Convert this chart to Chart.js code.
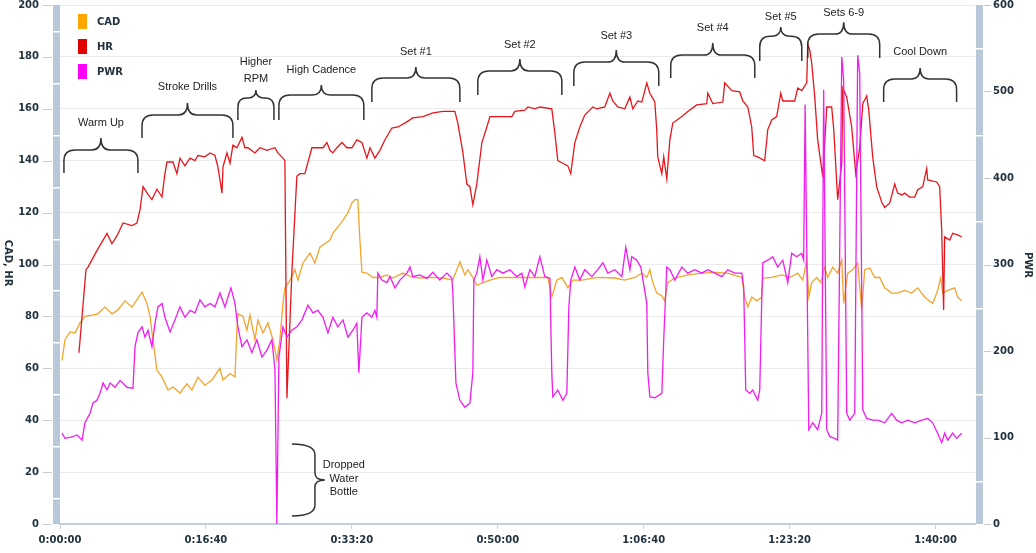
<!DOCTYPE html>
<html>
<head>
<meta charset="utf-8">
<script src="https://cdn.jsdelivr.net/npm/chart.js@4.4.1/dist/chart.umd.min.js"></script>
<style>
  html, body { margin: 0; padding: 0; background: #fff; }
  canvas { display: block; }
</style>
</head>
<body>
<canvas id="chart" width="1036" height="553"></canvas>
<script>
// [seconds, value]
const cadPoints = [
  [14,63],[34,71],[69,74],[103,73.6],[137,77.5],[171,80],[219,80.5],[260,81],[308,83.6],[356,81],
  [397,82.5],[445,86],[493,83.6],[534,87],[562,89.4],[596,85],[617,80],[637,71],[664,59.3],[699,56.6],
  [740,51.6],[774,52.8],[822,50.5],[870,54],[904,51.6],[945,56.6],[993,53.5],[1041,55.5],[1096,60],[1117,55.5],
  [1165,58],[1199,56.6],[1212,74.7],[1219,81],[1254,80],[1281,74.7],[1302,80.5],[1336,71],[1356,78.6],[1391,73.6],
  [1425,77.5],[1459,71],[1486,63.2],[1507,71],[1528,85],[1541,91],[1576,94],[1610,98],[1630,94],[1665,100.6],
  [1713,104.4],[1747,100.6],[1781,106.7],[1815,108],[1850,109.4],[1870,112],[1904,114.5],[1939,117],[1973,120],[2000,123.7],
  [2021,125],[2041,125],[2055,109.4],[2069,97],[2103,96.7],[2144,95],[2192,95],[2240,96],[2281,94.8],[2350,96.7],
  [2418,95],[2487,94.8],[2555,95],[2624,94.8],[2692,94],[2719,98],[2740,101],[2774,96],[2795,98],[2829,95],
  [2856,92],[2898,93],[2946,94],[3014,95],[3117,95],[3233,95],[3343,95],[3370,87.5],[3405,94],[3439,95],
  [3480,91],[3514,94],[3576,94],[3685,95],[3802,94.8],[3870,94],[3939,95],[3987,96.7],[4021,95],[4042,98],
  [4062,93],[4089,89],[4124,88],[4144,86],[4165,93],[4213,94.8],[4302,96],[4398,96.7],[4487,97],[4576,96.7],
  [4672,95],[4692,87.5],[4713,83.6],[4740,87.5],[4775,86],[4809,87.5],[4816,94.8],[4877,95],[4946,96],[5001,95],
  [5055,96.7],[5090,94],[5117,101.7],[5131,87.5],[5151,93],[5185,95],[5213,93],[5240,99],[5261,95],[5295,99],
  [5329,96.7],[5357,101.7],[5370,85],[5398,96.7],[5432,98],[5466,100.6],[5494,82.5],[5514,98],[5549,98.6],[5583,95],
  [5617,95],[5651,91],[5699,89],[5740,89],[5788,90],[5836,89],[5877,91],[5925,87.5],[5980,85],[6014,90],
  [6035,94.8],[6049,89],[6083,90],[6131,91],[6151,87.5],[6179,86]
];

const hrPoints = [
  [130,66],[178,98],[192,99],[240,104],[260,106],[322,112],[356,108],[390,111],[432,116],[493,115],
  [527,116],[548,121],[569,130],[603,127],[630,125],[664,129],[699,126],[719,135],[733,139.5],[774,139.5],
  [801,135],[822,141],[856,138],[891,141],[925,140],[945,142],[993,141.5],[1028,143],[1062,142],[1082,137.6],
  [1110,127.5],[1117,137.6],[1144,143],[1165,139],[1185,146],[1212,145],[1247,149],[1267,145],[1288,145],[1336,143],
  [1370,145],[1418,144],[1473,145],[1493,143],[1528,141],[1541,140],[1555,48.5],[1589,97],[1623,134],[1644,135],
  [1678,135],[1726,145],[1760,145],[1802,145],[1829,147],[1850,144],[1870,143],[1897,145],[1932,147],[1966,145],
  [2000,145],[2034,148],[2069,147],[2103,141],[2124,145],[2158,141],[2192,144],[2226,148],[2274,152.6],[2315,153],
  [2363,154.5],[2418,156.5],[2487,157],[2555,158.4],[2624,159],[2706,159],[2726,154.5],[2761,143],[2788,131],[2809,130],
  [2829,123],[2856,131],[2891,147],[2925,153],[2946,157],[3014,157],[3096,157],[3117,159],[3185,159.5],[3206,160.7],
  [3254,160],[3288,160.7],[3370,160],[3391,150.7],[3411,140],[3446,139],[3480,138],[3500,135],[3528,147],[3562,153],
  [3596,157.6],[3651,160.7],[3678,160],[3733,160.7],[3768,166],[3788,163],[3822,160.7],[3870,160],[3905,164.5],[3925,160],
  [3959,163],[3987,162.6],[4021,170],[4042,166],[4062,164],[4076,162.6],[4089,152],[4096,141.5],[4124,135],[4137,141.5],
  [4158,133],[4179,148],[4199,154.5],[4261,157],[4302,159],[4363,161.5],[4432,162],[4439,166],[4473,162],[4542,162.6],
  [4555,170],[4603,167],[4658,166.5],[4679,163],[4713,160.7],[4740,153],[4754,142],[4781,141.5],[4829,140],[4850,152],
  [4877,155.7],[4911,157],[4939,166],[4953,163],[5035,163],[5055,168],[5083,167],[5117,170],[5124,185],[5138,182.6],
  [5151,177.6],[5172,164.5],[5192,148],[5227,133.7],[5254,160.7],[5288,160.7],[5302,152],[5329,125],[5357,139],[5364,168],
  [5391,164.5],[5425,153],[5453,135],[5480,145],[5501,162],[5528,165],[5542,159.5],[5569,141.5],[5596,130],[5631,124],
  [5651,122],[5686,123.7],[5720,131],[5740,127.5],[5768,126.8],[5788,127.5],[5823,126],[5857,126],[5877,128.7],[5912,130],
  [5939,137],[5946,132.6],[6007,131.8],[6028,130],[6042,113],[6055,82.5],[6062,110.6],[6097,109.4],[6117,112],[6151,111.4],
  [6179,110.6]
];

const pwrPoints = [
  [14,105],[34,99],[82,100.6],[116,103],[151,97],[171,117],[206,128],[226,140],[253,143],[274,151],
  [295,163],[322,155],[343,163],[377,158],[411,166],[459,158],[500,157],[514,205],[534,221],[562,228],
  [582,216],[603,224],[630,205],[651,232],[671,251],[699,255],[719,239],[754,222],[788,236],[822,251],
  [856,239],[891,247],[925,244],[959,259],[993,251],[1028,255],[1062,251],[1096,267],[1130,251],[1171,273],
  [1199,255],[1219,228],[1247,205],[1281,213],[1315,198],[1349,213],[1384,193],[1418,201],[1452,213],[1473,178],
  [1486,0],[1500,193],[1528,228],[1555,216],[1589,224],[1623,228],[1658,236],[1699,253],[1733,244],[1767,247],
  [1802,239],[1836,221],[1870,239],[1904,228],[1939,236],[1973,216],[2007,224],[2034,232],[2048,175],[2069,239],
  [2103,244],[2137,239],[2158,247],[2171,239],[2178,290],[2206,282],[2240,279],[2261,286],[2295,273],[2329,282],
  [2377,290],[2398,297],[2418,286],[2466,288],[2514,284],[2555,291],[2603,282],[2651,290],[2685,284],[2692,267],
  [2713,163],[2740,143],[2774,135],[2809,140],[2829,175],[2836,282],[2856,290],[2877,309],[2898,282],[2925,305],
  [2959,286],[2993,294],[3035,290],[3083,294],[3130,286],[3165,290],[3185,274],[3220,294],[3254,286],[3288,309],
  [3322,286],[3357,284],[3370,175],[3377,147],[3411,155],[3446,143],[3473,151],[3487,251],[3500,282],[3528,297],
  [3562,282],[3596,294],[3644,286],[3685,294],[3720,302],[3754,290],[3802,294],[3850,286],[3877,320],[3905,294],
  [3918,309],[3952,305],[3980,297],[4021,255],[4028,175],[4042,147],[4076,146],[4124,151],[4137,213],[4158,297],
  [4179,294],[4213,282],[4261,297],[4302,290],[4350,294],[4398,290],[4439,294],[4487,290],[4535,286],[4576,294],
  [4624,290],[4672,290],[4685,274],[4699,155],[4727,151],[4747,155],[4781,143],[4795,155],[4809,262],[4816,302],
  [4850,305],[4884,309],[4918,297],[4953,305],[4987,279],[5014,313],[5048,309],[5083,313],[5096,305],[5106,485],
  [5131,109],[5158,117],[5192,109],[5220,128],[5233,502],[5254,109],[5275,101],[5309,99],[5329,97],[5357,540],
  [5370,513],[5391,128],[5412,120],[5446,128],[5466,542],[5480,521],[5501,132],[5528,122],[5569,120],[5603,120],
  [5651,117],[5699,128],[5733,120],[5768,117],[5809,120],[5857,117],[5905,120],[5946,122],[5980,117],[6014,105],
  [6042,94],[6062,105],[6083,97],[6117,105],[6144,99],[6179,105]
];

const timeTicks = [0, 1000, 2000, 3000, 4000, 5000, 6000];

// braces: time range, arm end / bar / peak heights and label rows, in CAD/HR units
const braces = [
  { text: ['Warm Up'], t0: 27, t1: 534, arm: 135.3, bar: 144.1, peak: 148.7, textY: [154.5] },
  { text: ['Stroke Drills'], t0: 562, t1: 1185, arm: 148.7, bar: 157.6, peak: 162.2, textY: [168.4] },
  { text: ['Higher', 'RPM'], t0: 1219, t1: 1466, arm: 155.7, bar: 164.2, peak: 167.2, textY: [178, 171.5] },
  { text: ['High Cadence'], t0: 1500, t1: 2082, arm: 155.7, bar: 165.3, peak: 169.2, textY: [175] },
  { text: ['Set #1'], t0: 2137, t1: 2740, arm: 162.6, bar: 171.9, peak: 176.1, textY: [181.9] },
  { text: ['Set #2'], t0: 2863, t1: 3439, arm: 165.3, bar: 174.6, peak: 179.2, textY: [184.6] },
  { text: ['Set #3'], t0: 3521, t1: 4103, arm: 168.8, bar: 178, peak: 182.7, textY: [188.2] },
  { text: ['Set #4'], t0: 4185, t1: 4761, arm: 171.9, bar: 180.7, peak: 185.4, textY: [191.1] },
  { text: ['Set #5'], t0: 4795, t1: 5083, arm: 178.4, bar: 188, peak: 191.5, textY: [195.4] },
  { text: ['Sets 6-9'], t0: 5124, t1: 5617, arm: 179.6, bar: 188.8, peak: 193.4, textY: [196.9] },
  { text: ['Cool Down'], t0: 5644, t1: 6144, arm: 162.6, bar: 171.5, peak: 175.7, textY: [181.9] }
];
const bottleNote = { text: ['Dropped', 'Water', 'Bottle'], tArm: 1589, tLine: 1747, tTip: 1815, top: 30.8, mid: 17, bottom: 3.1, tText: 1945, textY: [22.7, 17.3, 12.3] };

const legendItems = [
  { label: 'CAD', color: '#ffa500' },
  { label: 'HR', color: '#e00000' },
  { label: 'PWR', color: '#ff00ff' }
];

const tickFont = { family: 'DejaVu Sans', size: 10, weight: 'bold', lineHeight: 1 };
const tickColor = '#22323f';

function fmtTime(s) {
  const h = Math.floor(s / 3600);
  const m = Math.floor((s % 3600) / 60);
  const sec = Math.round(s % 60);
  return h + ':' + String(m).padStart(2, '0') + ':' + String(sec).padStart(2, '0');
}

function toXY(points) {
  return points.map(p => ({ x: p[0], y: p[1] }));
}

function drawBrace(ctx, b, xs, ys) {
  const x0 = xs.getPixelForValue(b.t0);
  const x1 = xs.getPixelForValue(b.t1);
  const xm = (x0 + x1) / 2;
  const yArm = ys.getPixelForValue(b.arm);
  const yBar = ys.getPixelForValue(b.bar);
  const yPeak = ys.getPixelForValue(b.peak);
  const r = Math.min(11, (x1 - x0) / 4);
  const r2 = Math.min(9, (x1 - x0) / 5);

  ctx.beginPath();
  ctx.moveTo(x0, yArm);
  ctx.lineTo(x0, yBar + r);
  ctx.quadraticCurveTo(x0, yBar, x0 + r, yBar);
  ctx.lineTo(xm - r2, yBar);
  ctx.quadraticCurveTo(xm, yBar, xm, yPeak);
  ctx.quadraticCurveTo(xm, yBar, xm + r2, yBar);
  ctx.lineTo(x1 - r, yBar);
  ctx.quadraticCurveTo(x1, yBar, x1, yBar + r);
  ctx.lineTo(x1, yArm);
  ctx.stroke();

  b.text.forEach((txt, i) => {
    ctx.fillText(txt, xm, ys.getPixelForValue(b.textY[i]));
  });
}

function drawAxisBar(ctx, left, scale, step, offset) {
  const top = scale.getPixelForValue(scale.max);
  const bottom = scale.getPixelForValue(scale.min);
  ctx.fillStyle = '#b9c8d9';
  ctx.fillRect(left, top, 7, bottom - top);
  ctx.fillStyle = '#ffffff';
  for (let v = offset; v < scale.max; v += step) {
    const y = Math.round(scale.getPixelForValue(v));
    ctx.fillRect(left, y, 7, 1.5);
  }
}

const decorPlugin = {
  id: 'decorPlugin',

  afterDraw: (chart) => {
    const { ctx, scales } = chart;
    const xs = scales.x, ys = scales.y, ys2 = scales.y2;

    ctx.save();

    // grey axis bands with separators
    drawAxisBar(ctx, 53, ys, 20, 10);
    drawAxisBar(ctx, 976, ys2, 100, 50);

    // tick marks beside the bands
    ctx.strokeStyle = '#c5ccd4';
    ctx.lineWidth = 1;
    ys.ticks.forEach(t => {
      const y = Math.round(ys.getPixelForValue(t.value)) + 0.5;
      ctx.beginPath(); ctx.moveTo(43, y); ctx.lineTo(52, y); ctx.stroke();
    });
    ys2.ticks.forEach(t => {
      const y = Math.round(ys2.getPixelForValue(t.value)) + 0.5;
      ctx.beginPath(); ctx.moveTo(984, y); ctx.lineTo(991, y); ctx.stroke();
    });

    // axis titles, both reading top to bottom
    ctx.fillStyle = tickColor;
    ctx.font = 'bold 10px "DejaVu Sans"';
    ctx.textAlign = 'center';
    ctx.textBaseline = 'middle';
    ctx.save();
    ctx.translate(8, 263);
    ctx.rotate(Math.PI / 2);
    ctx.fillText('CAD, HR', 0, 0);
    ctx.restore();
    ctx.save();
    ctx.translate(1028, 265);
    ctx.rotate(Math.PI / 2);
    ctx.fillText('PWR', 0, 0);
    ctx.restore();

    // legend
    legendItems.forEach((item, i) => {
      const top = 14 + i * 25;
      ctx.fillStyle = item.color;
      ctx.fillRect(78, top, 9, 15);
      ctx.fillStyle = tickColor;
      ctx.textAlign = 'left';
      ctx.fillText(item.label, 97, top + 8);
    });

    // annotations
    ctx.strokeStyle = '#333333';
    ctx.lineWidth = 1.5;
    ctx.fillStyle = '#222222';
    ctx.font = '11px "Liberation Sans"';
    ctx.textAlign = 'center';
    ctx.textBaseline = 'middle';
    braces.forEach(b => drawBrace(ctx, b, xs, ys));

    const n = bottleNote;
    const xa = xs.getPixelForValue(n.tArm);
    const xl = xs.getPixelForValue(n.tLine);
    const xt = xs.getPixelForValue(n.tTip);
    const yt = ys.getPixelForValue(n.top);
    const ym = ys.getPixelForValue(n.mid);
    const yb = ys.getPixelForValue(n.bottom);
    ctx.beginPath();
    ctx.moveTo(xa, yt);
    ctx.quadraticCurveTo(xl, yt, xl, yt + 11);
    ctx.lineTo(xl, ym - 7);
    ctx.quadraticCurveTo(xl, ym, xt, ym);
    ctx.quadraticCurveTo(xl, ym, xl, ym + 7);
    ctx.lineTo(xl, yb - 11);
    ctx.quadraticCurveTo(xl, yb, xa, yb);
    ctx.stroke();
    n.text.forEach((txt, i) => {
      ctx.fillText(txt, xs.getPixelForValue(n.tText), ys.getPixelForValue(n.textY[i]));
    });

    ctx.restore();
  }
};

const config = {
  type: 'line',
  data: {
    datasets: [
      { label: 'PWR', data: toXY(pwrPoints), yAxisID: 'y2', borderColor: '#f01cf0', borderWidth: 1.3 },
      { label: 'HR', data: toXY(hrPoints), yAxisID: 'y', borderColor: '#e8161c', borderWidth: 1.3 },
      { label: 'CAD', data: toXY(cadPoints), yAxisID: 'y', borderColor: '#f2a42c', borderWidth: 1.3 }
    ]
  },
  options: {
    responsive: false,
    animation: false,
    events: [],
    elements: { point: { radius: 0 }, line: { tension: 0 } },
    layout: { padding: { top: 5, left: 0, right: 0, bottom: 0 }, autoPadding: false },
    plugins: { legend: { display: false }, tooltip: { enabled: false } },
    scales: {
      x: {
        type: 'linear',
        min: 0,
        max: 6270,
        afterFit: (s) => { s.height = 29; },
        afterBuildTicks: (s) => { s.ticks = timeTicks.map(v => ({ value: v })); },
        ticks: { callback: (v) => fmtTime(v), maxRotation: 0, autoSkip: false, padding: 6, font: tickFont, color: tickColor },
        grid: { drawOnChartArea: false, tickLength: 5, color: '#c8d2de' },
        border: { color: '#c3cedb', width: 2 }
      },
      y: {
        position: 'left',
        min: 0,
        max: 200,
        afterFit: (s) => { s.width = 60; },
        ticks: { stepSize: 20, padding: 0, font: tickFont, color: tickColor },
        grid: { color: '#ebebeb', drawTicks: true, tickLength: 21, tickColor: 'rgba(0,0,0,0)' },
        border: { display: false }
      },
      y2: {
        position: 'right',
        min: 0,
        max: 600,
        afterFit: (s) => { s.width = 61; },
        ticks: { stepSize: 100, padding: 0, font: tickFont, color: tickColor },
        grid: { drawOnChartArea: false, drawTicks: true, tickLength: 18, tickColor: 'rgba(0,0,0,0)' },
        border: { display: false }
      }
    }
  },
  plugins: [decorPlugin]
};

new Chart(document.getElementById('chart').getContext('2d'), config);
</script>
</body>
</html>
